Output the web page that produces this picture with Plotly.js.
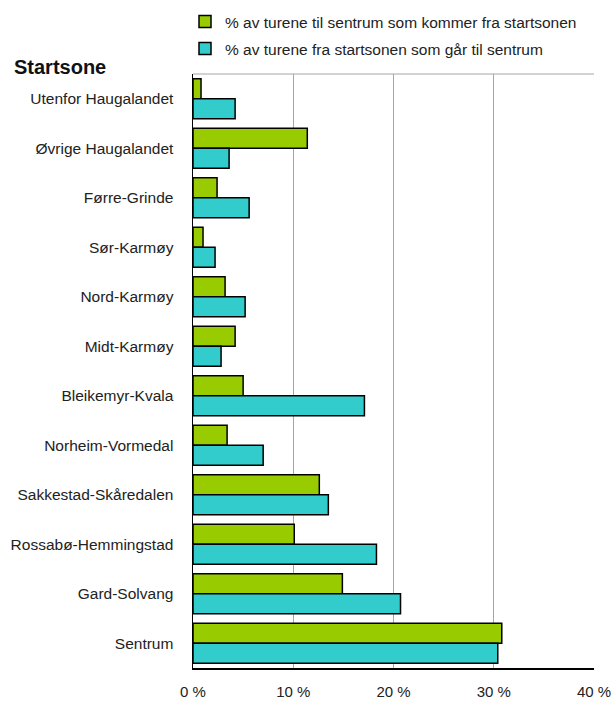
<!DOCTYPE html>
<html>
<head>
<meta charset="utf-8">
<script src="https://cdn.plot.ly/plotly-3.0.1.min.js"></script>
<style>html,body{margin:0;padding:0;background:#fff;}#chart{width:614px;height:702px;}</style>
</head>
<body>
<div id="chart"></div>
<script>
const categories = ["Utenfor Haugalandet","Øvrige Haugalandet","Førre-Grinde","Sør-Karmøy","Nord-Karmøy","Midt-Karmøy","Bleikemyr-Kvala","Norheim-Vormedal","Sakkestad-Skåredalen","Rossabø-Hemmingstad","Gard-Solvang","Sentrum"];
const tilSentrum = [0.8, 11.4, 2.4, 1.0, 3.2, 4.2, 5.0, 3.4, 12.6, 10.1, 14.9, 30.8];
const fraStartsone = [4.2, 3.6, 5.6, 2.2, 5.2, 2.8, 17.1, 7.0, 13.5, 18.3, 20.7, 30.4];
const seriesNames = ["% av turene til sentrum som kommer fra startsonen","% av turene fra startsonen som går til sentrum"];
const xTicks = [0, 10, 20, 30, 40];
const xTickText = ["0 %","10 %","20 %","30 %","40 %"];
const axisTitle = "Startsone";

const font = "Liberation Sans, Arial, sans-serif";
const traces = [
  {type:'bar', orientation:'h', name:seriesNames[0], y:categories, x:tilSentrum,
   marker:{color:'#99cc00', line:{color:'#000', width:1.5}}, legend:'legend', hoverinfo:'x+y'},
  {type:'bar', orientation:'h', name:seriesNames[1], y:categories, x:fraStartsone,
   marker:{color:'#33cccc', line:{color:'#000', width:1.5}}, legend:'legend2', hoverinfo:'x+y'}
];
const W = 614, H = 702, ml = 193, mr = 20, mt = 74, mb = 34;
const pw = W - ml - mr, ph = H - mt - mb;
function px(x){ return (x - ml) / pw; }
function py(y){ return (H - mb - y) / ph; }
const layout = {
  width: W, height: H,
  margin: {l: ml, r: mr, t: mt, b: mb, pad: 0, autoexpand: false},
  paper_bgcolor: '#fff', plot_bgcolor: '#fff',
  font: {family: font, size: 15.5, color: '#222'},
  barmode: 'group', bargap: 0.19, bargroupgap: 0,
  showlegend: true,
  legend: {x: px(185), y: py(22), xanchor:'left', yanchor:'middle', bgcolor:'rgba(0,0,0,0)',
           font:{family:font, size:15.5, color:'#222'}, itemwidth:30},
  legend2: {x: px(185), y: py(49), xanchor:'left', yanchor:'middle', bgcolor:'rgba(0,0,0,0)',
           font:{family:font, size:15.5, color:'#222'}, itemwidth:30},
  xaxis: {range:[0,40], tickvals:xTicks, ticktext:xTickText, showgrid:true, gridcolor:'#a6a6a6', gridwidth:1,
          zeroline:false, showline:true, linecolor:'#000', linewidth:1.5, mirror:false,
          ticks:'', ticklabelstandoff: 9, tickfont:{family:font, size:15, color:'#222'}, fixedrange:true, automargin:false},
  yaxis: {type:'category', autorange:'reversed', showgrid:false, zeroline:false,
          showline:true, linecolor:'#000', linewidth:1.5, ticks:'', ticklabelstandoff: 15,
          tickfont:{family:font, size:15.5, color:'#222'}, fixedrange:true, automargin:false},
  shapes: [
    {type:'line', xref:'paper', yref:'paper', x0:0, x1:1, y0:1, y1:1, line:{color:'#a6a6a6', width:1}}
  ],
  annotations: [
    {text:'<b>' + axisTitle + '</b>', xref:'paper', yref:'paper', x:px(12), y:py(67), xanchor:'left', yanchor:'middle',
     showarrow:false, font:{family:font, size:20, color:'#111'}}
  ]
};
Plotly.newPlot('chart', traces, layout, {displayModeBar:false, staticPlot:true});
</script>
</body>
</html>
